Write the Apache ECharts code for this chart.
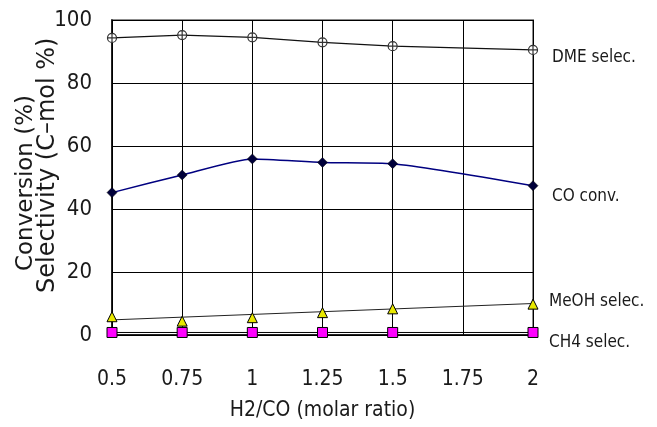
<!DOCTYPE html>
<html>
<head>
<meta charset="utf-8">
<script src="https://cdn.jsdelivr.net/npm/echarts@6/dist/echarts.min.js"></script>
<style>
  html, body { margin: 0; padding: 0; background: #ffffff; }
  #main { width: 657px; height: 427px; }
</style>
</head>
<body>
<div id="main"></div>
<script>
  // H2/CO molar ratio
  var ratios = [0.5, 0.75, 1, 1.25, 1.5, 2];
  var dmeSelec = [94.3, 95.2, 94.5, 92.9, 91.7, 90.5];
  var coConv = [45.2, 50.8, 55.9, 54.8, 54.4, 47.4];
  var meohSelec = [5.8, 4.4, 5.5, 7.1, 8.3, 9.8];
  var ch4Selec = [0.8, 0.8, 0.8, 0.8, 0.8, 0.8];
  // linear trend line drawn through MeOH points
  var meohTrendX = [0.5, 2];
  var meohTrendY = [4.8, 10.0];

  var seriesNames = ['DME selec.', 'CO conv.', 'MeOH selec.', 'CH4 selec.'];

  var font = "'DejaVu Sans Condensed', 'Liberation Sans Narrow', sans-serif";
  var titleFont = "'DejaVu Sans', sans-serif";

  function pairs(xs, ys) {
    return xs.map(function (x, i) { return [x, ys[i]]; });
  }

  // open circle with a cross inside
  var crossCircle = 'path://M0,-5A5,5,0,1,1,0,5A5,5,0,1,1,0,-5ZM0,-5L0,5M-5,0L5,0';

  var myChart = echarts.init(document.getElementById('main'));
  var option = {
    backgroundColor: '#ffffff',
    animation: false,
    grid: {
      left: 112, right: 124, top: 20, bottom: 92,
      show: true, borderColor: '#8c8c8c', borderWidth: 2
    },
    xAxis: {
      type: 'value', min: 0.5, max: 2, interval: 0.25,
      axisLine: { show: true, onZero: false, lineStyle: { color: '#000', width: 1.5 } },
      axisTick: { show: false },
      splitLine: { show: true, lineStyle: { color: '#000', width: 1 } },
      axisLabel: { color: '#1a1a1a', fontSize: 21, fontFamily: font, margin: 34 },
      name: 'H2/CO (molar ratio)',
      nameLocation: 'middle', nameGap: 65,
      nameTextStyle: { color: '#1a1a1a', fontSize: 21, fontFamily: font }
    },
    yAxis: {
      type: 'value', min: 0, max: 100, interval: 20,
      axisLine: { show: true, lineStyle: { color: '#000', width: 1.5 } },
      axisTick: { show: false },
      splitLine: { show: true, lineStyle: { color: '#000', width: 1 } },
      axisLabel: { color: '#1a1a1a', fontSize: 22, fontFamily: font, margin: 20 }
    },
    graphic: [
      { type: 'text', x: 26, y: 183, rotation: Math.PI / 2,
        style: { text: 'Conversion (%)', fill: '#1a1a1a', fontSize: 23, fontFamily: titleFont,
          align: 'center', verticalAlign: 'middle' } },
      { type: 'text', x: 48, y: 293, rotation: Math.PI / 2,
        style: { text: 'Selectivity (C\u2013mol %)', fill: '#1a1a1a', fontSize: 24, fontFamily: titleFont,
          align: 'left', verticalAlign: 'middle' } },
      { type: 'text', x: 552, y: 58,
        style: { text: seriesNames[0], fill: '#1a1a1a', fontSize: 17, fontFamily: font, verticalAlign: 'middle' } },
      { type: 'text', x: 552, y: 197,
        style: { text: seriesNames[1], fill: '#1a1a1a', fontSize: 17, fontFamily: font, verticalAlign: 'middle' } },
      { type: 'text', x: 549, y: 302,
        style: { text: seriesNames[2], fill: '#1a1a1a', fontSize: 17, fontFamily: font, verticalAlign: 'middle' } },
      { type: 'text', x: 549, y: 343,
        style: { text: seriesNames[3], fill: '#1a1a1a', fontSize: 17, fontFamily: font, verticalAlign: 'middle' } }
    ],
    series: [
      {
        name: seriesNames[0], type: 'line', data: pairs(ratios, dmeSelec),
        symbol: crossCircle, symbolSize: 9,
        lineStyle: { color: '#111', width: 1.2 },
        itemStyle: { color: '#ffffff', borderColor: '#333', borderWidth: 1.2 },
        z: 3
      },
      {
        name: seriesNames[1], type: 'line', data: pairs(ratios, coConv),
        symbol: 'diamond', symbolSize: 10, smooth: 0.2,
        lineStyle: { color: '#000080', width: 1.5 },
        itemStyle: { color: '#00003a', borderColor: '#000000', borderWidth: 0.5 },
        z: 3
      },
      {
        name: 'MeOH trend', type: 'line', data: pairs(meohTrendX, meohTrendY),
        symbol: 'none', lineStyle: { color: '#222', width: 1 }, z: 2
      },
      {
        name: seriesNames[2], type: 'line', data: pairs(ratios, meohSelec),
        symbol: 'triangle', symbolSize: 10,
        lineStyle: { width: 0 },
        itemStyle: { color: '#e8e800', borderColor: '#000', borderWidth: 1 },
        z: 4
      },
      {
        name: seriesNames[3], type: 'line', data: pairs(ratios, ch4Selec),
        symbol: 'rect', symbolSize: 10,
        lineStyle: { color: '#000', width: 1 },
        itemStyle: { color: '#ff00ff', borderColor: '#000', borderWidth: 1 },
        z: 4
      }
    ]
  };
  myChart.setOption(option);
</script>
</body>
</html>
